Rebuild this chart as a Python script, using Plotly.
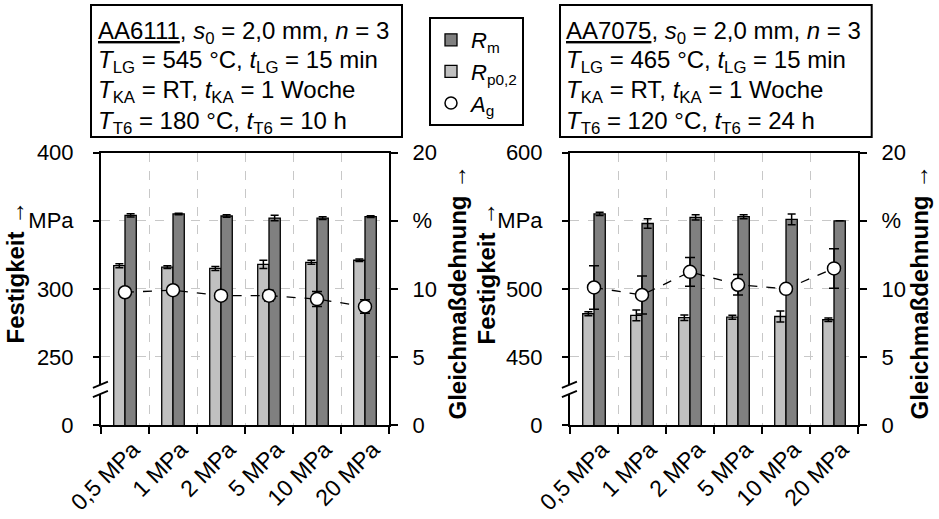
import plotly.graph_objects as go

W, H = 939, 519
FONT = "Liberation Sans, Arial, sans-serif"

categories = ["0,5 MPa", "1 MPa", "2 MPa", "5 MPa", "10 MPa", "20 MPa"]

aa6111_rp = [317, 316, 315, 318, 319.5, 321]
aa6111_rp_err = [1.5, 1.0, 1.5, 3.0, 1.5, 1.0]
aa6111_rm = [354, 355, 353.5, 352, 352, 353]
aa6111_rm_err = [1.2, 0.6, 1.0, 2.0, 1.0, 0.6]
aa6111_ag = [9.75, 9.9, 9.5, 9.5, 9.25, 8.7]
aa6111_ag_err = [0.3, 0.3, 0.3, 0.4, 0.55, 0.5]

aa7075_rp = [481.7, 480.5, 478.8, 479.2, 479.7, 477.3]
aa7075_rp_err = [1.5, 4.0, 2.0, 1.5, 4.0, 1.2]
aa7075_rm = [555, 548, 552.5, 553, 551, 550]
aa7075_rm_err = [1.2, 3.5, 2.0, 1.5, 4.0, 0.0]
aa7075_ag = [10.1, 9.55, 11.25, 10.3, 10.0, 11.5]
aa7075_ag_err = [1.6, 1.4, 1.05, 0.75, 0.3, 1.45]

left_ticks_6111 = [200, 250, 300, 350, 400]
left_text_6111 = ["0", "250", "300", "MPa", "400"]
left_ticks_7075 = [400, 450, 500, 550, 600]
left_text_7075 = ["0", "450", "500", "MPa", "600"]
right_ticks = [0, 5, 10, 15, 20]
right_text = ["0", "5", "10", "%", "20"]

box_6111 = [
    "<u>AA6111</u>, <i>s</i><sub>0</sub> = 2,0 mm, <i>n</i> = 3",
    "<i>T</i><sub>LG</sub> = 545 °C, <i>t</i><sub>LG</sub> = 15 min",
    "<i>T</i><sub>KA</sub> = RT, <i>t</i><sub>KA</sub> = 1 Woche",
    "<i>T</i><sub>T6</sub> = 180 °C, <i>t</i><sub>T6</sub> = 10 h",
]
box_7075 = [
    "<u>AA7075</u>, <i>s</i><sub>0</sub> = 2,0 mm, <i>n</i> = 3",
    "<i>T</i><sub>LG</sub> = 465 °C, <i>t</i><sub>LG</sub> = 15 min",
    "<i>T</i><sub>KA</sub> = RT, <i>t</i><sub>KA</sub> = 1 Woche",
    "<i>T</i><sub>T6</sub> = 120 °C, <i>t</i><sub>T6</sub> = 24 h",
]

LIGHT = "#c0c0c0"
DARK = "#808080"

def px(x):
    return x / W

def py(y):
    return (H - y) / H

fig = go.Figure()

def add_panel(xa, ya, ya2, rp, rp_err, rm, rm_err, ag, ag_err, show):
    xs = "x" if xa == 1 else f"x{xa}"
    ys = "y" if ya == 1 else f"y{ya}"
    ys2 = f"y{ya2}"
    fig.add_trace(go.Bar(
        x=categories, y=rp, xaxis=xs, yaxis=ys, name="<i>R</i><sub>p0,2</sub>",
        marker=dict(color=LIGHT, line=dict(color="black", width=1.3)),
        error_y=dict(type="data", array=rp_err, color="black", thickness=1.5, width=4),
        showlegend=show, legendrank=2, legendgroup="rp"))
    fig.add_trace(go.Bar(
        x=categories, y=rm, xaxis=xs, yaxis=ys, name="<i>R</i><sub>m</sub>",
        marker=dict(color=DARK, line=dict(color="black", width=1.3)),
        error_y=dict(type="data", array=rm_err, color="black", thickness=1.5, width=4),
        showlegend=show, legendrank=1, legendgroup="rm"))
    fig.add_trace(go.Scatter(
        x=categories, y=ag, xaxis=xs, yaxis=ys2, mode="lines+markers",
        line=dict(color="black", width=1.3, dash="dash"),
        marker=dict(symbol="circle", size=13, color="white", line=dict(color="black", width=1.5)),
        error_y=dict(type="data", array=ag_err, color="black", thickness=1.5, width=5),
        showlegend=False, name="ag"))
    if show:
        fig.add_trace(go.Scatter(
            x=[None], y=[None], xaxis=xs, yaxis=ys2, mode="markers",
            name="<i>A</i><sub>g</sub>",
            marker=dict(symbol="circle", size=12, color="white", line=dict(color="black", width=1.5)),
            showlegend=True, legendrank=3, legendgroup="ag"))

add_panel(1, 1, 2, aa6111_rp, aa6111_rp_err, aa6111_rm, aa6111_rm_err, aa6111_ag, aa6111_ag_err, True)
add_panel(2, 3, 4, aa7075_rp, aa7075_rp_err, aa7075_rm, aa7075_rm_err, aa7075_ag, aa7075_ag_err, False)

tickfont = dict(family=FONT, size=22, color="black")
xtickfont = dict(family=FONT, size=23, color="black")
y0, y1 = py(425), py(152.7)

def xaxis(dom, anchor):
    return dict(domain=dom, anchor=anchor, type="category", tickson="boundaries",
                showline=True, mirror=True, linecolor="black", linewidth=2,
                ticks="outside", ticklen=7, tickwidth=2, tickcolor="black",
                showgrid=True, gridcolor="#c8c8c8", gridwidth=1, griddash="dash",
                tickangle=-45, tickfont=xtickfont, zeroline=False, automargin=False,
                ticklabelshift=8)

def yleft(rng, tv, tt, anchor):
    return dict(domain=[y0, y1], anchor=anchor, range=rng, tickmode="array",
                tickvals=tv, ticktext=tt, showline=True, linecolor="black", linewidth=2,
                ticks="outside", ticklen=6, tickwidth=2, tickcolor="black",
                showgrid=True, gridcolor="#c8c8c8", gridwidth=1, griddash="dash",
                tickfont=tickfont, zeroline=False, ticklabelstandoff=15, automargin=False)

def yright(overlay, anchor):
    return dict(overlaying=overlay, side="right", anchor=anchor, range=[0, 20],
                tickmode="array", tickvals=right_ticks, ticktext=right_text,
                showline=True, linecolor="black", linewidth=2,
                ticks="outside", ticklen=7, tickwidth=2, tickcolor="black",
                showgrid=False, tickfont=tickfont, zeroline=False, ticklabelstandoff=10,
                automargin=False)

shapes = []
annotations = []

def panel_deco(box_l, box_r, text_x, lines, xdom_ref, yref, brk_lo, title_l_x, title_r_x):
    shapes.append(dict(type="rect", xref="paper", yref="paper",
                       x0=px(box_l), x1=px(box_r), y0=py(137), y1=py(5),
                       line=dict(color="black", width=2), fillcolor="white"))
    for i, t in enumerate(lines):
        annotations.append(dict(xref="paper", yref="paper", x=px(text_x), y=py(32 + 30 * i),
                                xanchor="left", yanchor="middle", text=t, showarrow=False,
                                font=dict(family=FONT, size=24, color="black")))
    # axis break marks
    shapes.append(dict(type="path", xref=xdom_ref, yref=yref,
                       path=f"M -0.028 {brk_lo + 0.0} L 0.024 {brk_lo + 4.6} L 0.024 {brk_lo + 11.4} L -0.028 {brk_lo + 6.8} Z",
                       fillcolor="white", line=dict(width=0)))
    shapes.append(dict(type="line", xref=xdom_ref, yref=yref, x0=-0.028, x1=0.024,
                       y0=brk_lo, y1=brk_lo + 4.6, line=dict(color="black", width=1.8)))
    shapes.append(dict(type="line", xref=xdom_ref, yref=yref, x0=-0.028, x1=0.024,
                       y0=brk_lo + 6.8, y1=brk_lo + 11.4, line=dict(color="black", width=1.8)))
    annotations.append(dict(xref="paper", yref="paper", x=px(title_l_x), y=py(272.5),
                            xanchor="center", yanchor="middle", textangle=-90, showarrow=False,
                            text="<b>Festigkeit</b> →",
                            font=dict(family=FONT, size=24, color="black")))
    annotations.append(dict(xref="paper", yref="paper", x=px(title_r_x), y=py(292.5),
                            xanchor="center", yanchor="middle", textangle=-90, showarrow=False,
                            text="<b>Gleichmaßdehnung</b> →",
                            font=dict(family=FONT, size=24, color="black")))

panel_deco(91, 402, 96, box_6111, "x domain", "y", 220.5, 15, 457)
panel_deco(560, 871.7, 564, box_7075, "x2 domain", "y3", 420.5, 486, 919)

fig.update_layout(
    width=W, height=H, autosize=False,
    margin=dict(l=0, r=0, t=0, b=0, autoexpand=False),
    paper_bgcolor="white", plot_bgcolor="white",
    barmode="group", bargap=0.53, bargroupgap=0,
    font=dict(family=FONT, size=22, color="black"),
    xaxis=xaxis([px(101), px(389)], "y"),
    xaxis2=xaxis([px(570), px(858)], "y3"),
    yaxis=yleft([200, 400], left_ticks_6111, left_text_6111, "x"),
    yaxis2=yright("y", "x"),
    yaxis3=yleft([400, 600], left_ticks_7075, left_text_7075, "x2"),
    yaxis4=yright("y3", "x2"),
    legend=dict(x=px(429), y=py(17), xanchor="left", yanchor="top",
                bordercolor="black", borderwidth=2, bgcolor="white",
                font=dict(family=FONT, size=22, color="black"),
                traceorder="grouped", tracegroupgap=0, itemwidth=30),
    shapes=shapes, annotations=annotations,
)

fig.write_html("out.html")
